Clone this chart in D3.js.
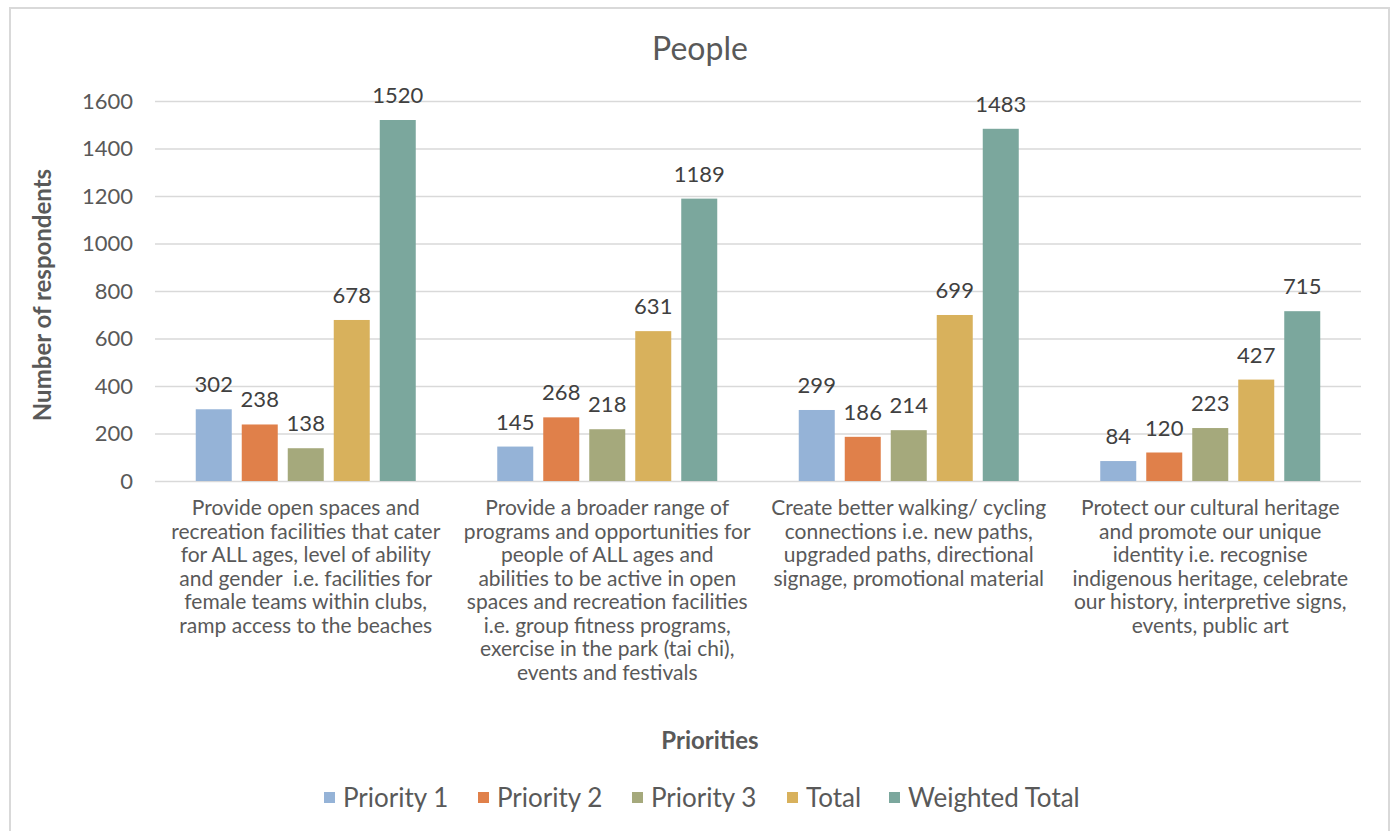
<!DOCTYPE html>
<meta charset="utf-8">
<style>
body { margin: 0; background: #fff; }
svg { font-family: Lato, "Open Sans", sans-serif; }
.grid line { stroke: #d9d9d9; stroke-width: 1.5; }
.grid .domain { display: none; }
</style>
<body>
<script src="https://d3js.org/d3.v7.min.js"></script>
<script>

// categories (line breaks as shown under the axis)
var categories = [
  "Provide open spaces and\nrecreation facilities that cater\nfor ALL ages, level of ability\nand gender  i.e. facilities for\nfemale teams within clubs,\nramp access to the beaches",
  "Provide a broader range of\nprograms and opportunities for\npeople of ALL ages and\nabilities to be active in open\nspaces and recreation facilities\ni.e. group fitness programs,\nexercise in the park (tai chi),\nevents and festivals",
  "Create better walking/ cycling\nconnections i.e. new paths,\nupgraded paths, directional\nsignage, promotional material",
  "Protect our cultural heritage\nand promote our unique\nidentity i.e. recognise\nindigenous heritage, celebrate\nour history, interpretive signs,\nevents, public art"
];

var seriesNames = ["Priority 1", "Priority 2", "Priority 3", "Total", "Weighted Total"];

var priority1 = [302, 145, 299, 84];
var priority2 = [238, 268, 186, 120];
var priority3 = [138, 218, 214, 223];
var total = [678, 631, 699, 427];
var weightedTotal = [1520, 1189, 1483, 715];

var yTicks = [0, 200, 400, 600, 800, 1000, 1200, 1400, 1600];

var colors = ["#95b3d7", "#e0804a", "#a5a97c", "#d8b15c", "#7ba79d"];

var series = [priority1, priority2, priority3, total, weightedTotal];

var W = 1395, H = 831;
var margin = {top: 101, right: 34, bottom: 350, left: 155};
var width = W - margin.left - margin.right,
    height = H - margin.top - margin.bottom;

var svg = d3.select("body").append("svg")
    .attr("width", W)
    .attr("height", H);

// chart frame
svg.append("rect")
    .attr("x", 10).attr("y", 8)
    .attr("width", 1379).attr("height", 840)
    .attr("fill", "none")
    .attr("stroke", "#d9d9d9")
    .attr("stroke-width", 2);

var g = svg.append("g")
    .attr("transform", "translate(" + margin.left + "," + margin.top + ")");

var x0 = d3.scaleBand()
    .domain(d3.range(categories.length))
    .range([0, width]);

var clusterW = 230;
var x1 = d3.scaleBand()
    .domain(d3.range(seriesNames.length))
    .range([0, clusterW])
    .paddingInner(10 / 46)
    .paddingOuter(5 / 46);

var y = d3.scaleLinear()
    .domain([0, 1600])
    .range([height, 0]);

// gridlines
g.append("g")
    .attr("class", "grid")
    .call(d3.axisLeft(y).tickValues(yTicks).tickSize(-width).tickFormat(""));

// y tick labels
g.append("g")
    .call(d3.axisLeft(y).tickValues(yTicks).tickSize(0).tickPadding(22).tickFormat(d3.format("d")))
    .call(function(a) { a.select(".domain").remove(); })
    .selectAll("text")
    .attr("fill", "#595959")
    .style("font-size", "22px")
    .style("font-family", "Lato, sans-serif");

// bars
var groups = g.selectAll(".cluster")
    .data(categories)
  .enter().append("g")
    .attr("class", "cluster")
    .attr("transform", function(d, i) {
      return "translate(" + (x0(i) + (x0.bandwidth() - clusterW) / 2) + ",0)";
    });

groups.selectAll("rect")
    .data(function(d, i) { return series.map(function(s, k) { return {k: k, v: s[i]}; }); })
  .enter().append("rect")
    .attr("x", function(d) { return x1(d.k); })
    .attr("width", x1.bandwidth())
    .attr("y", function(d) { return y(d.v); })
    .attr("height", function(d) { return height - y(d.v); })
    .attr("fill", function(d) { return colors[d.k]; });

groups.selectAll(".val")
    .data(function(d, i) { return series.map(function(s, k) { return {k: k, v: s[i]}; }); })
  .enter().append("text")
    .attr("class", "val")
    .attr("x", function(d) { return x1(d.k) + x1.bandwidth() / 2; })
    .attr("y", function(d) { return y(d.v) - 17; })
    .attr("text-anchor", "middle")
    .attr("fill", "#404040")
    .style("font-size", "22px")
    .text(function(d) { return d.v; });

// category labels
var xLabels = g.append("g")
    .attr("transform", "translate(0," + height + ")");

xLabels.selectAll("text")
    .data(categories)
  .enter().append("text")
    .attr("x", function(d, i) { return x0(i) + x0.bandwidth() / 2; })
    .attr("y", 34)
    .attr("text-anchor", "middle")
    .attr("fill", "#595959")
    .style("font-size", "21px")
    .style("white-space", "pre")
    .each(function(d) {
      var t = d3.select(this);
      d.split("\n").forEach(function(line, j) {
        t.append("tspan")
          .attr("x", t.attr("x"))
          .attr("dy", j === 0 ? 0 : 23.5)
          .text(line);
      });
    });

// title
svg.append("text")
    .attr("x", 700)
    .attr("y", 60)
    .attr("text-anchor", "middle")
    .attr("fill", "#595959")
    .style("font-size", "32px")
    .text("People");

// y axis label
svg.append("text")
    .attr("transform", "translate(51," + (margin.top + height / 2 + 4) + ") rotate(-90)")
    .attr("text-anchor", "middle")
    .attr("fill", "#595959")
    .style("font-size", "24px")
    .style("font-weight", "bold")
    .text("Number of respondents");

// x axis label
svg.append("text")
    .attr("x", 710)
    .attr("y", 749)
    .attr("text-anchor", "middle")
    .attr("fill", "#595959")
    .style("font-size", "24px")
    .style("font-weight", "bold")
    .text("Priorities");

// legend
var legendX = [324, 478, 632, 787, 889];
var legend = svg.append("g");
var items = legend.selectAll("g")
    .data(seriesNames)
  .enter().append("g")
    .attr("transform", function(d, i) { return "translate(" + legendX[i] + ",792)"; });

items.append("rect")
    .attr("width", 11).attr("height", 11)
    .attr("fill", function(d, i) { return colors[i]; });

items.append("text")
    .attr("x", 19)
    .attr("y", 15)
    .attr("fill", "#595959")
    .style("font-size", "26px")
    .text(function(d) { return d; });

</script>
</body>
